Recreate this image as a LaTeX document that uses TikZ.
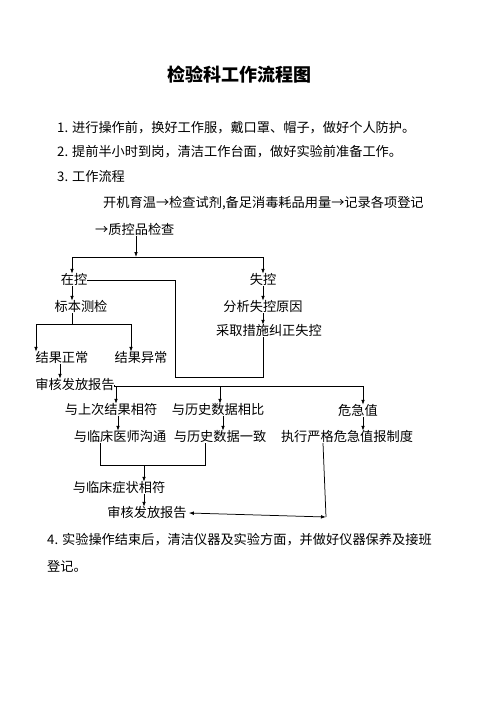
\documentclass[tikz,border=0pt]{standalone}
\usepackage{fontspec}
\setmainfont{Noto Sans CJK SC}
\usetikzlibrary{arrows.meta}
\begin{document}
\begin{tikzpicture}[x=1pt,y=-1pt,
  t/.style={inner sep=0pt,font=\fontsize{13.2}{15}\selectfont,text height=10pt,text depth=2pt},
  para/.style={t,anchor=west},
  arr/.style={-{Latex[length=5pt,width=3.6pt]}},
  ln/.style={line width=0.75pt}]
\useasboundingbox (0,0) rectangle (496,702);
\fill[white] (0,0) rectangle (496,702);
\node[inner sep=0pt,font=\fontsize{18}{20}\selectfont\bfseries] (title) at (239,75) {检验科工作流程图};
\node[para] (p1) at (57,128) {1. 进行操作前，换好工作服，戴口罩、帽子，做好个人防护。};
\node[para] (p2) at (57,152) {2. 提前半小时到岗，清洁工作台面，做好实验前准备工作。};
\node[para] (p3) at (57,177) {3. 工作流程};
\node[para] (kj) at (103,203) {开机育温→检查试剂,备足消毒耗品用量→记录各项登记};
\node[para] (zkp) at (95,230) {→质控品检查};
\node[t] (zk) at (74,280) {在控};
\node[t] (sk) at (263,280) {失控};
\node[t] (fx) at (263,307) {分析失控原因};
\node[t] (cq) at (269,331) {采取措施纠正失控};
\node[t] (bb) at (81,307) {标本测检};
\node[t] (zc) at (62,358) {结果正常};
\node[t] (yc) at (141,358) {结果异常};
\node[t] (sh1) at (75,385) {审核发放报告};
\node[t] (ys) at (111,410) {与上次结果相符};
\node[t] (ls) at (218,410) {与历史数据相比};
\node[t] (wj) at (358,411) {危急值};
\node[t] (gt) at (120,437) {与临床医师沟通};
\node[t] (yz) at (220,437) {与历史数据一致};
\node[t] (zx) at (347,437) {执行严格危急值报制度};
\node[t] (zz) at (119,488) {与临床症状相符};
\node[t] (sh2) at (147,513) {审核发放报告};
\node[para] (p4) at (47,540) {4. 实验操作结束后，清洁仪器及实验方面，并做好仪器保养及接班};
\node[para] (p4b) at (47,567) {登记。};
% coordinates
\coordinate (j1) at (136,257);
\coordinate (h1L) at (72,257);
\coordinate (h1R) at (263,257);
\coordinate (b1) at (175,377);
\coordinate (b2) at (263,377);
\coordinate (s1) at (72,324);
\coordinate (s1L) at (36,324);
\coordinate (s1R) at (131,324);
\coordinate (a1) at (60,0);
\coordinate (h3a) at (116,386);
\coordinate (h3b) at (220,386);
\coordinate (h3R) at (363,386);
\coordinate (m1) at (100,465);
\coordinate (m2) at (205,465);
\coordinate (mm) at (144,465);
\coordinate (c1) at (323,0);
\coordinate (c2) at (326,517);
% connectors
\draw[ln,arr] (zkp.south -| j1) -- (j1);
\draw[ln] (h1L) -- (h1R);
\draw[ln,arr] (h1L) -- (zk.north -| h1L);
\draw[ln,arr] (h1R) -- (sk.north -| h1R);
\draw[ln] (zk.east) -| (b1) -- (b2) -- (cq.south -| b2);
\draw[ln,arr] (sk.south) -- (fx.north -| sk.south);
\draw[ln,arr] (fx.south -| b2) -- (cq.north -| b2);
\draw[ln,arr] (zk.south -| h1L) -- (bb.north -| h1L);
\draw[ln] (bb.south -| s1) -- (s1);
\draw[ln] (s1L) -- (s1R);
\draw[ln,arr] (s1L) -- (zc.north -| s1L);
\draw[ln,arr] (s1R) -- (yc.north -| s1R);
\draw[ln,arr] (zc.south -| a1) -- (sh1.north -| a1);
\draw[ln] (sh1.east) -- (sh1.east |- h3R) -- (h3R);
\draw[ln,arr] (h3a) -- (ys.north -| h3a);
\draw[ln,arr] (h3b) -- (ls.north -| h3b);
\draw[ln,arr] (h3R) -- (wj.north -| h3R);
\draw[ln,arr] (ys.south -| 118,0) -- (gt.north -| 118,0);
\draw[ln,arr] (ls.south -| 223,0) -- (yz.north -| 223,0);
\draw[ln,arr] (wj.south -| h3R) -- (zx.north -| h3R);
\draw[ln] (gt.south -| m1) -- (m1) -- (m2) -- (yz.south -| m2);
\draw[ln,arr] (mm) -- (zz.north -| mm);
\draw[ln,arr] (zz.south -| mm) -- (sh2.north -| mm);
\draw[ln] (zx.south -| c1) -- (c2);
\draw[ln,{Latex[length=5pt,width=3.6pt]}-{Latex[length=5pt,width=3.6pt]}] ([xshift=2pt]sh2.east) -- (c2);
\end{tikzpicture}
\end{document}
